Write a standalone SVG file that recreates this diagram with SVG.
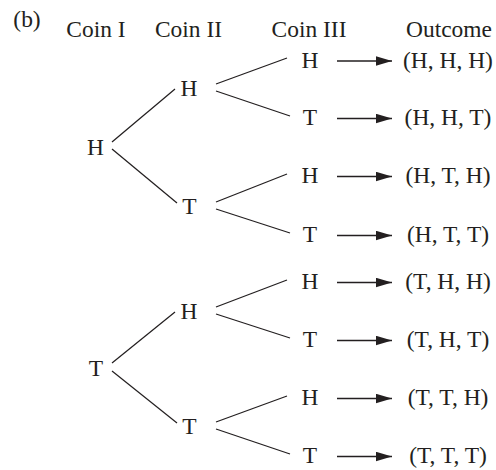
<svg xmlns="http://www.w3.org/2000/svg" width="496" height="470" viewBox="0 0 496 470">
  <style>
    text { font-family: "Liberation Serif", "Times New Roman", serif; font-size: 23px; fill: #231f20; text-anchor: middle; }
    .edge { stroke: #231f20; stroke-width: 1.25; fill: none; }
    .arrow { stroke: #231f20; stroke-width: 1.4; fill: none; marker-end: url(#head); }
  </style>
  <defs>
    <marker id="head" markerUnits="userSpaceOnUse" markerWidth="18" markerHeight="11" refX="16" refY="4.75" orient="auto">
      <path d="M0,0 L16,4.75 L0,9.5 Z" fill="#231f20"/>
    </marker>
  </defs>

  <rect width="496" height="470" fill="#ffffff"/>

  <!-- headings -->
  <g id="headings">
    <text transform="translate(27 27) scale(1.02 1)">(b)</text>
    <text transform="translate(96 37) scale(1.02 1)">Coin I</text>
    <text transform="translate(188.5 37) scale(1.02 1)">Coin II</text>
    <text transform="translate(309 37) scale(1.02 1)">Coin III</text>
    <text transform="translate(449 37) scale(1.02 1)">Outcome</text>
  </g>

  <!-- branches of the tree -->
  <g id="connectors">
    <line class="edge" x1="112" y1="142" x2="175" y2="89"/>
    <line class="edge" x1="112" y1="149" x2="177" y2="203"/>
    <line class="edge" x1="112" y1="363" x2="175" y2="312"/>
    <line class="edge" x1="112" y1="371" x2="177" y2="423"/>

    <line class="edge" x1="216" y1="84" x2="287" y2="58"/>
    <line class="edge" x1="216" y1="91" x2="290" y2="116"/>
    <line class="edge" x1="216" y1="202" x2="287" y2="174"/>
    <line class="edge" x1="216" y1="209" x2="290" y2="233"/>
    <line class="edge" x1="216" y1="307" x2="287" y2="280"/>
    <line class="edge" x1="216" y1="314" x2="290" y2="338"/>
    <line class="edge" x1="216" y1="422" x2="287" y2="396"/>
    <line class="edge" x1="216" y1="429" x2="290" y2="454"/>

    <line class="arrow" x1="337" y1="61" x2="392" y2="61"/>
    <line class="arrow" x1="337" y1="118.5" x2="392" y2="118.5"/>
    <line class="arrow" x1="337" y1="176.5" x2="392" y2="176.5"/>
    <line class="arrow" x1="337" y1="235.5" x2="392" y2="235.5"/>
    <line class="arrow" x1="337" y1="282.5" x2="392" y2="282.5"/>
    <line class="arrow" x1="337" y1="340.5" x2="392" y2="340.5"/>
    <line class="arrow" x1="337" y1="398.5" x2="392" y2="398.5"/>
    <line class="arrow" x1="337" y1="456.5" x2="392" y2="456.5"/>
  </g>

  <!-- Coin I -->
  <g id="c1-H"><text transform="translate(95.5 155) scale(1.02 1)">H</text></g>
  <g id="c1-T"><text transform="translate(96 376) scale(1.02 1)">T</text></g>

  <!-- Coin II -->
  <g id="c2-HH"><text transform="translate(189 96) scale(1.02 1)">H</text></g>
  <g id="c2-HT"><text transform="translate(189.5 214) scale(1.02 1)">T</text></g>
  <g id="c2-TH"><text transform="translate(189 319) scale(1.02 1)">H</text></g>
  <g id="c2-TT"><text transform="translate(189.5 434) scale(1.02 1)">T</text></g>

  <!-- Coin III -->
  <g id="c3-HHH"><text transform="translate(310 67.5) scale(1.02 1)">H</text></g>
  <g id="c3-HHT"><text transform="translate(310 125) scale(1.02 1)">T</text></g>
  <g id="c3-HTH"><text transform="translate(310 183) scale(1.02 1)">H</text></g>
  <g id="c3-HTT"><text transform="translate(310 242) scale(1.02 1)">T</text></g>
  <g id="c3-THH"><text transform="translate(310 289) scale(1.02 1)">H</text></g>
  <g id="c3-THT"><text transform="translate(310 347) scale(1.02 1)">T</text></g>
  <g id="c3-TTH"><text transform="translate(310 405) scale(1.02 1)">H</text></g>
  <g id="c3-TTT"><text transform="translate(310 463) scale(1.02 1)">T</text></g>

  <!-- outcomes -->
  <g id="out-HHH"><text transform="translate(448 67.5) scale(1.02 1)">(H, H, H)</text></g>
  <g id="out-HHT"><text transform="translate(448 125) scale(1.02 1)">(H, H, T)</text></g>
  <g id="out-HTH"><text transform="translate(448 183) scale(1.02 1)">(H, T, H)</text></g>
  <g id="out-HTT"><text transform="translate(448 242) scale(1.02 1)">(H, T, T)</text></g>
  <g id="out-THH"><text transform="translate(448 289) scale(1.02 1)">(T, H, H)</text></g>
  <g id="out-THT"><text transform="translate(448 347) scale(1.02 1)">(T, H, T)</text></g>
  <g id="out-TTH"><text transform="translate(448 405) scale(1.02 1)">(T, T, H)</text></g>
  <g id="out-TTT"><text transform="translate(448 463) scale(1.02 1)">(T, T, T)</text></g>
</svg>
